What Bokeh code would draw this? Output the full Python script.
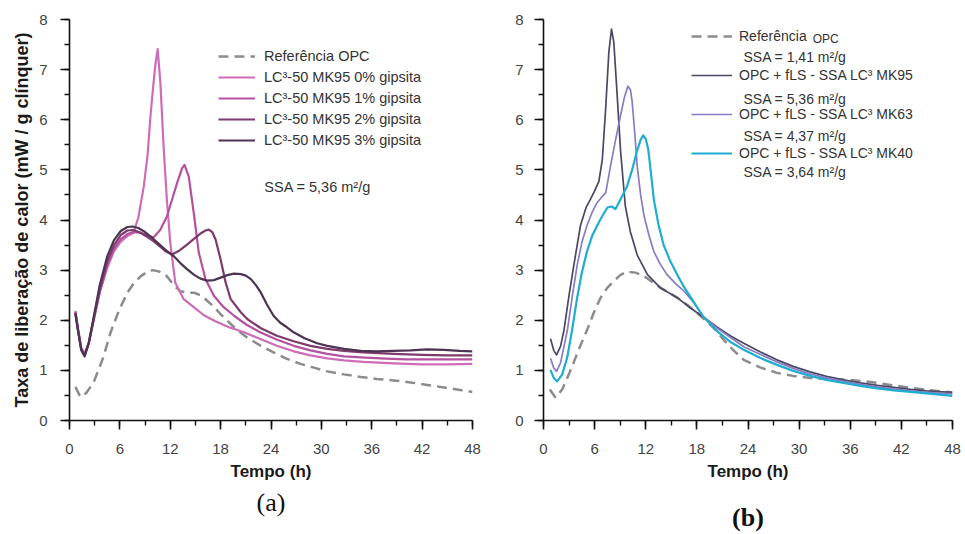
from bokeh.plotting import figure
from bokeh.layouts import row
from bokeh.models import SingleIntervalTicker, FixedTicker, LinearAxis, Legend, LegendItem, Label
from bokeh.embed import file_html
from bokeh.resources import INLINE

# ---------------- Panel (a) data ----------------
ref_a_t = [0.7, 1.3, 2.0, 2.9, 4.0, 4.9, 5.9, 6.9, 7.7, 8.5, 9.2, 9.9, 10.7, 11.6, 12.4, 13.2, 14.0, 14.8,
           15.6, 16.4, 17.2, 18.0, 18.8, 19.6, 20.4, 21.2, 22.8, 24.3, 25.9, 27.5, 29.0, 30.7, 32.7, 34.7,
           36.6, 38.6, 40.6, 42.6, 44.6, 46.5, 48.0]
ref_a_y = [0.67, 0.47, 0.55, 0.77, 1.25, 1.76, 2.20, 2.55, 2.75, 2.88, 2.96, 3.00, 2.97, 2.88, 2.70, 2.58,
           2.55, 2.55, 2.50, 2.39, 2.27, 2.12, 1.99, 1.86, 1.75, 1.65, 1.49, 1.36, 1.23, 1.13, 1.06, 0.98,
           0.92, 0.87, 0.83, 0.80, 0.76, 0.71, 0.66, 0.61, 0.57]

g0_t = [0.7, 1.0, 1.4, 1.8, 2.3, 2.9, 3.6, 4.5, 5.3, 6.1, 6.9, 7.6, 8.2, 8.85, 9.3, 9.64, 10.0, 10.24, 10.5,
        10.83, 11.23, 11.6, 12.0, 12.6, 13.6, 14.8, 16.0, 17.5, 19.0, 20.8, 22.8, 24.7, 26.7, 28.7, 30.7,
        32.7, 35.0, 38.6, 42.0, 45.0, 48.0]
g0_y = [2.19, 1.85, 1.45, 1.33, 1.55, 2.02, 2.55, 3.05, 3.38, 3.57, 3.68, 3.74, 4.05, 4.67, 5.30, 6.06, 6.72,
        7.11, 7.41, 6.72, 5.40, 4.40, 3.55, 2.75, 2.42, 2.26, 2.10, 1.97, 1.86, 1.76, 1.62, 1.49, 1.38, 1.30,
        1.24, 1.20, 1.17, 1.14, 1.12, 1.12, 1.13]

g1_t = [0.7, 1.0, 1.4, 1.8, 2.3, 2.9, 3.6, 4.5, 5.3, 6.1, 6.9, 7.6, 8.4, 9.2, 10.0, 10.8, 11.6, 12.2, 12.8,
        13.4, 13.7, 14.2, 14.8, 15.4, 16.2, 17.2, 18.3, 19.6, 21.0, 22.7, 24.6, 26.7, 28.7, 30.7, 32.7, 34.7,
        37.0, 40.0, 43.0, 46.0, 48.0]
g1_y = [2.17, 1.83, 1.43, 1.31, 1.54, 2.02, 2.57, 3.10, 3.42, 3.62, 3.72, 3.76, 3.75, 3.70, 3.65, 3.80, 4.07,
        4.40, 4.73, 5.03, 5.10, 4.87, 4.14, 3.35, 2.82, 2.49, 2.27, 2.09, 1.92, 1.76, 1.62, 1.49, 1.40, 1.33,
        1.28, 1.26, 1.24, 1.22, 1.22, 1.22, 1.22]

g2_t = [0.7, 1.0, 1.4, 1.8, 2.3, 2.9, 3.6, 4.5, 5.3, 6.1, 6.9, 7.6, 8.4, 9.2, 10.0, 10.8, 11.5, 12.2, 13.0,
        14.0, 15.0, 15.6, 16.2, 16.6, 17.0, 17.4, 18.0, 18.6, 19.2, 20.4, 21.2, 22.8, 24.7, 26.7, 28.7, 30.7,
        32.7, 35.0, 38.6, 42.0, 45.0, 48.0]
g2_y = [2.15, 1.82, 1.42, 1.30, 1.55, 2.05, 2.62, 3.18, 3.50, 3.70, 3.79, 3.80, 3.75, 3.67, 3.58, 3.47, 3.37,
        3.31, 3.38, 3.51, 3.65, 3.73, 3.79, 3.81, 3.76, 3.61, 3.21, 2.75, 2.42, 2.16, 2.02, 1.84, 1.69, 1.58,
        1.49, 1.43, 1.39, 1.36, 1.33, 1.31, 1.30, 1.30]

g3_t = [0.7, 1.0, 1.4, 1.8, 2.3, 2.9, 3.6, 4.5, 5.3, 6.1, 6.9, 7.5, 8.2, 9.0, 9.8, 10.6, 11.4, 12.4, 13.2,
        14.0, 14.8, 15.6, 16.4, 17.2, 18.0, 18.8, 19.6, 20.4, 21.0, 21.6, 22.2, 22.8, 23.5, 24.3, 25.1, 25.9,
        26.7, 28.0, 29.5, 30.7, 32.7, 34.7, 36.6, 38.6, 40.6, 42.6, 44.6, 46.5, 48.0]
g3_y = [2.13, 1.80, 1.40, 1.28, 1.55, 2.08, 2.70, 3.28, 3.60, 3.78, 3.86, 3.87, 3.84, 3.76, 3.65, 3.53, 3.41,
        3.28, 3.14, 3.02, 2.91, 2.83, 2.79, 2.80, 2.85, 2.90, 2.93, 2.92, 2.89, 2.82, 2.70, 2.55, 2.32, 2.09,
        1.95, 1.86, 1.76, 1.64, 1.54, 1.49, 1.43, 1.39, 1.38, 1.39, 1.40, 1.42, 1.41, 1.39, 1.38]

# ---------------- Panel (b) data ----------------
ref_b_t = [0.74, 1.4, 2.2, 3.2, 4.1, 5.1, 5.9, 6.7, 7.5, 8.25, 9.0, 9.8, 10.8, 11.8, 12.8, 13.7, 14.7, 15.7,
           16.7, 17.8, 19.0, 20.0, 21.2, 22.3, 23.5, 25.4, 27.4, 29.3, 31.3, 33.2, 35.2, 37.2, 39.2, 41.1,
           43.1, 45.0, 46.8, 48.0]
ref_b_y = [0.62, 0.46, 0.62, 1.01, 1.40, 1.80, 2.15, 2.45, 2.65, 2.78, 2.90, 2.97, 2.95, 2.88, 2.76, 2.65,
           2.55, 2.45, 2.33, 2.18, 2.00, 1.84, 1.60, 1.40, 1.21, 1.06, 0.95, 0.89, 0.85, 0.83, 0.82, 0.79,
           0.75, 0.70, 0.65, 0.61, 0.58, 0.56]

mk95_t = [0.82, 1.2, 1.53, 2.0, 2.4, 3.0, 3.56, 4.34, 5.0, 5.5, 6.0, 6.5, 6.9, 7.28, 7.67, 7.98, 8.25, 8.57,
          9.04, 9.6, 10.2, 11.0, 12.2, 13.7, 14.7, 15.7, 17.2, 18.8, 20.4, 22.0, 23.5, 25.4, 27.4, 29.3, 31.3,
          33.2, 35.2, 37.2, 39.2, 41.1, 43.1, 45.0, 46.8, 48.0]
mk95_y = [1.63, 1.40, 1.31, 1.48, 1.80, 2.50, 3.10, 3.89, 4.25, 4.41, 4.58, 4.77, 5.20, 6.18, 7.35, 7.81, 7.55,
          6.70, 5.39, 4.28, 3.76, 3.30, 2.91, 2.65, 2.55, 2.45, 2.25, 2.06, 1.86, 1.68, 1.54, 1.37, 1.21, 1.08,
          0.97, 0.88, 0.81, 0.75, 0.70, 0.66, 0.62, 0.59, 0.57, 0.56]

mk63_t = [0.82, 1.2, 1.53, 2.0, 2.8, 3.4, 3.95, 4.5, 5.1, 5.7, 6.3, 6.8, 7.3, 7.86, 8.4, 9.0, 9.5, 9.9, 10.2,
          10.4, 10.7, 11.0, 11.4, 11.8, 12.4, 12.95, 13.7, 14.5, 15.5, 16.5, 17.6, 18.8, 20.4, 22.0, 23.5,
          25.4, 27.4, 29.3, 31.3, 33.2, 35.2, 37.2, 39.2, 41.1, 43.1, 45.0, 46.8, 48.0]
mk63_y = [1.24, 1.05, 0.98, 1.15, 1.80, 2.50, 3.10, 3.55, 3.89, 4.15, 4.35, 4.45, 4.54, 5.07, 5.55, 6.05, 6.45,
          6.67, 6.60, 6.37, 5.75, 5.07, 4.50, 4.08, 3.68, 3.37, 3.12, 2.91, 2.73, 2.58, 2.36, 2.06, 1.84, 1.65,
          1.47, 1.32, 1.17, 1.04, 0.93, 0.85, 0.78, 0.72, 0.67, 0.63, 0.59, 0.56, 0.54, 0.53]

mk40_t = [0.82, 1.2, 1.6, 2.2, 2.8, 3.4, 3.95, 4.5, 5.1, 5.7, 6.3, 6.9, 7.5, 8.0, 8.45, 9.0, 9.8, 10.4, 11.0,
          11.4, 11.7, 12.0, 12.3, 12.6, 12.95, 13.5, 14.1, 14.9, 15.7, 16.5, 17.3, 18.8, 20.4, 22.0, 23.5,
          25.4, 27.4, 29.3, 31.3, 33.2, 35.2, 37.2, 39.2, 41.1, 43.1, 45.0, 46.8, 48.0]
mk40_y = [1.01, 0.85, 0.78, 0.92, 1.27, 1.85, 2.45, 2.95, 3.37, 3.68, 3.89, 4.08, 4.25, 4.27, 4.22, 4.40, 4.67,
          5.00, 5.39, 5.60, 5.69, 5.62, 5.40, 4.95, 4.41, 3.90, 3.50, 3.17, 2.91, 2.66, 2.45, 2.06, 1.78, 1.56,
          1.41, 1.25, 1.11, 0.99, 0.89, 0.81, 0.75, 0.69, 0.64, 0.60, 0.57, 0.54, 0.51, 0.49]

x_ticks_interval = 6
y_ticks_interval = 1

labels_a = ["Referência OPC", "LC³-50 MK95 0% gipsita", "LC³-50 MK95 1% gipsita",
            "LC³-50 MK95 2% gipsita", "LC³-50 MK95 3% gipsita"]
labels_b = ["Referência", "OPC + fLS - SSA LC³ MK95", "OPC + fLS - SSA LC³ MK63", "OPC + fLS - SSA LC³ MK40"]
ssa_b = ["SSA = 1,41 m²/g", "SSA = 5,36 m²/g", "SSA = 4,37 m²/g", "SSA = 3,64 m²/g"]

SANS = "Liberation Sans"
SERIF = "Liberation Serif"
REF_COLOR = "#8c8c8c"
cols_a = ["#cf6cb7", "#b5529f", "#7d3a6a", "#4d3452"]
cols_b = ["#4a4862", "#8a7cc2", "#1daed2"]


def style_axes(p, ylabel, y_standoff):
    p.grid.visible = False
    p.outline_line_color = None
    p.xaxis.ticker = SingleIntervalTicker(interval=x_ticks_interval, num_minor_ticks=2)
    p.yaxis.ticker = SingleIntervalTicker(interval=y_ticks_interval, num_minor_ticks=2)
    for ax in (p.xaxis, p.yaxis):
        ax.axis_line_color = "#111111"
        ax.axis_line_width = 1.6
        ax.major_tick_line_color = "#111111"
        ax.minor_tick_line_color = "#111111"
        ax.major_tick_line_width = 1.6
        ax.minor_tick_line_width = 1.4
        ax.major_tick_out = 9
        ax.major_tick_in = 0
        ax.minor_tick_out = 5
        ax.minor_tick_in = 0
        ax.major_label_text_font = SANS
        ax.major_label_text_font_size = "15px"
        ax.major_label_text_color = "#444444"
        ax.axis_label_text_font = SANS
        ax.axis_label_text_font_style = "bold"
        ax.axis_label_text_color = "#1a1a1a"
    p.xaxis.major_label_standoff = 14
    p.yaxis.major_label_standoff = y_standoff
    p.xaxis.axis_label = "Tempo (h)"
    p.xaxis.axis_label_text_font_size = "17px"
    p.xaxis.axis_label_standoff = 5
    if ylabel:
        p.yaxis.axis_label = ylabel
        p.yaxis.axis_label_text_font_size = "18px"
        p.yaxis.axis_label_standoff = 4


def caption_axis(text, style, standoff):
    # an empty axis below the x axis that only carries the panel caption
    return LinearAxis(ticker=FixedTicker(ticks=[]), axis_line_color=None, major_tick_out=0,
                      major_tick_in=0, minor_tick_out=0, minor_tick_in=0, major_label_standoff=0,
                      axis_label=text, axis_label_text_font=SERIF, axis_label_text_font_size="26px",
                      axis_label_text_font_style=style, axis_label_text_color="#111111",
                      axis_label_standoff=standoff)


# ---------------- Figure (a) ----------------
p1 = figure(width=490, height=534, x_range=(0, 48), y_range=(0, 8), output_backend="svg",
            toolbar_location=None, min_border_left=69, min_border_right=18, min_border_top=19,
            min_border_bottom=112, background_fill_color="white", border_fill_color="white")
style_axes(p1, "Taxa de liberação de calor (mW / g clínquer)", 13)

r_ref_a = p1.line(ref_a_t, ref_a_y, line_color=REF_COLOR, line_width=2.5, line_dash="10 6")
rs_a = []
for tt, yy, c in zip([g0_t, g1_t, g2_t, g3_t], [g0_y, g1_y, g2_y, g3_y], cols_a):
    rs_a.append(p1.line(tt, yy, line_color=c, line_width=2.2, line_join="round"))

leg_a = Legend(items=[LegendItem(label=l, renderers=[r]) for l, r in zip(labels_a, [r_ref_a] + rs_a)],
               location=(149, 270), glyph_width=37, glyph_height=20, label_height=20, spacing=1,
               label_standoff=9, padding=0, margin=0, border_line_color=None, background_fill_alpha=0,
               label_text_font=SANS, label_text_font_size="14.5px", label_text_color="#333333")
p1.add_layout(leg_a)

p1.add_layout(Label(x=23.2, y=4.65, text="SSA = 5,36 m²/g", text_font=SANS, text_font_size="14.5px",
                    text_color="#333333", text_baseline="middle"))

p1.add_layout(caption_axis("(a)", "normal", 4), "below")

# ---------------- Figure (b) ----------------
p2 = figure(width=475, height=534, x_range=(0, 48), y_range=(0, 8), output_backend="svg",
            toolbar_location=None, min_border_left=53, min_border_right=13, min_border_top=18,
            min_border_bottom=109, background_fill_color="white", border_fill_color="white")
style_axes(p2, None, 11)

r_ref_b = p2.line(ref_b_t, ref_b_y, line_color=REF_COLOR, line_width=2.5, line_dash="10 6")
rs_b = []
for tt, yy, c, w in zip([mk95_t, mk63_t, mk40_t], [mk95_y, mk63_y, mk40_y], cols_b, [1.7, 1.7, 2.2]):
    rs_b.append(p2.line(tt, yy, line_color=c, line_width=w, line_join="round"))

leg_b = Legend(items=[LegendItem(label=l, renderers=[r]) for l, r in zip(labels_b, [r_ref_b] + rs_b)],
               location=(148, 257), glyph_width=41, glyph_height=20, label_height=20, spacing=19,
               label_standoff=7, padding=0, margin=0, border_line_color=None, background_fill_alpha=0,
               label_text_font=SANS, label_text_font_size="14px", label_text_color="#333333")
p2.add_layout(leg_b)

p2.add_layout(Label(x=31.6, y=7.62, text="OPC", text_font=SANS, text_font_size="12px",
                    text_color="#333333", text_baseline="middle"))
for txt, yy in zip(ssa_b, [7.25, 6.41, 5.67, 4.96]):
    p2.add_layout(Label(x=23.47, y=yy, text=txt, text_font=SANS, text_font_size="14px",
                        text_color="#333333", text_baseline="middle"))

p2.add_layout(caption_axis("(b)", "bold", 19), "below")

layout = row(p1, p2)
open("out.html", "w").write(file_html(layout, INLINE))
